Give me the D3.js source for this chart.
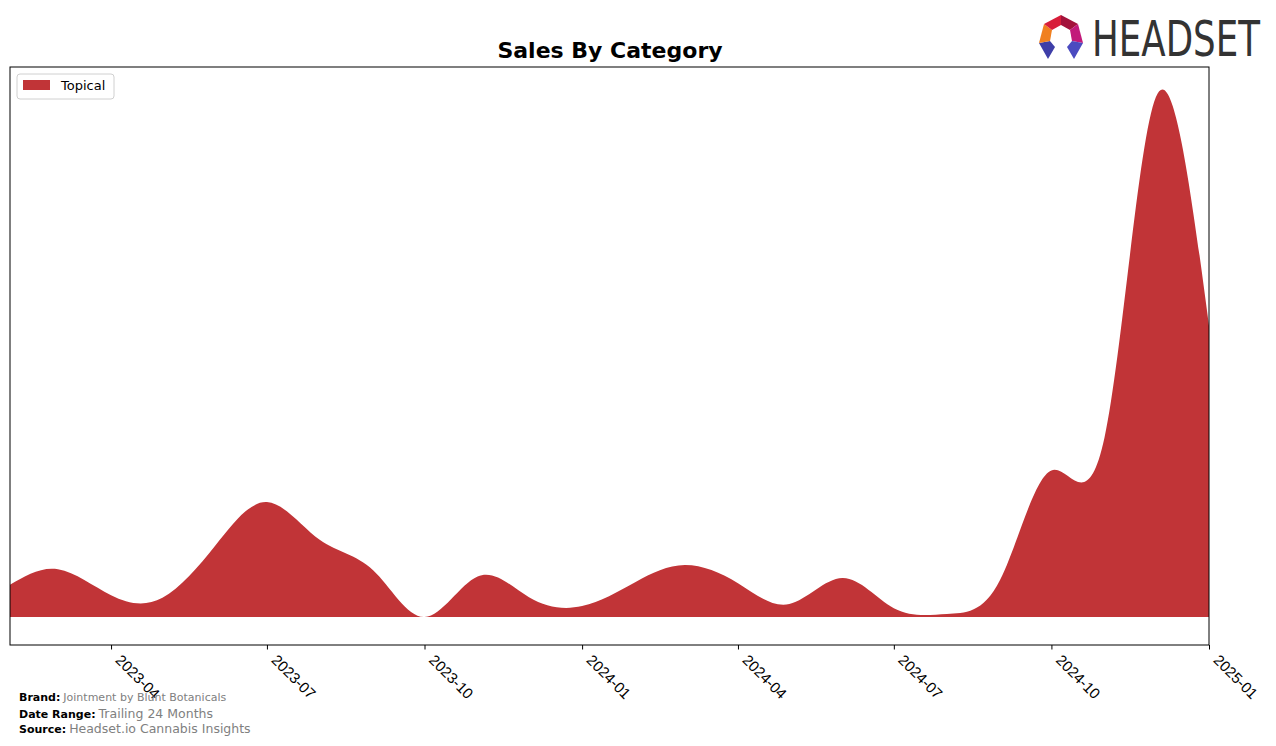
<!DOCTYPE html>
<html><head><meta charset="utf-8">
<script src="https://cdn.jsdelivr.net/npm/d3@7"></script>
<style>body{margin:0;background:#fff;} svg{display:block;font-family:"DejaVu Sans",sans-serif;}</style>
</head><body>
<svg id="chart" width="1276" height="746"></svg>
<script>
const months = ["2023-02","2023-03","2023-04","2023-05","2023-06","2023-07","2023-08","2023-09","2023-10","2023-11","2023-12","2024-01","2024-02","2024-03","2024-04","2024-05","2024-06","2024-07","2024-08","2024-09","2024-10","2024-11","2024-12","2025-01"];
const topical = [6.2,9.2,4.2,3.7,13.8,22.1,14.8,9.0,0.0,7.8,3.8,2.1,6.7,10.0,6.5,2.5,7.5,1.7,0.6,7.1,28.2,34.5,100,56.0];
const tickLabels = ["2023-04","2023-07","2023-10","2024-01","2024-04","2024-07","2024-10","2025-01"];
const seriesName = "Topical";

const svg = d3.select("#chart");
const parse = d3.timeParse("%Y-%m");
const L = 10, R = 1209, T = 67, B = 645;
const x = d3.scaleTime().domain([parse("2023-02"), parse("2025-01")]).range([L, R]);
const y = d3.scaleLinear().domain([-5.38, 105.77]).range([B, T]);
const data = months.map((m, i) => ({d: parse(m), v: topical[i]}));

svg.append("defs").append("clipPath").attr("id","clip").append("rect")
  .attr("x", L).attr("y", T).attr("width", R - L).attr("height", B - T);

const area = d3.area().x(d => x(d.d)).y0(y(0)).y1(d => y(d.v)).curve(d3.curveNatural);
svg.append("path").datum(data).attr("clip-path","url(#clip)")
  .attr("d", area).attr("fill", "#c13437");

// frame
svg.append("rect").attr("x", L).attr("y", T).attr("width", R - L).attr("height", B - T)
  .attr("fill","none").attr("stroke","#000").attr("stroke-width",1);

// x axis
const xAxis = d3.axisBottom(x).tickValues(tickLabels.map(parse)).tickFormat(d3.timeFormat("%Y-%m")).tickSize(4.5).tickSizeOuter(0);
const gx = svg.append("g").attr("transform", `translate(0,${B})`).call(xAxis);
gx.select(".domain").remove();
gx.selectAll(".tick line").attr("stroke","#000");
gx.selectAll(".tick text").attr("font-size", 15).attr("fill","#000")
  .attr("text-anchor","start").attr("dy", null).attr("y", 0)
  .attr("transform", "translate(3,16) rotate(45)");

// title
svg.append("text").attr("x", 610).attr("y", 58).attr("text-anchor","middle")
  .attr("font-weight","bold").attr("font-size", 22).text("Sales By Category");

// legend
const lg = svg.append("g");
lg.append("rect").attr("x",17).attr("y",74).attr("width",97).attr("height",25).attr("rx",3)
  .attr("fill","#fff").attr("stroke","#d0d0d0");
lg.append("rect").attr("x",23).attr("y",80).attr("width",27).attr("height",10).attr("fill","#c13437");
lg.append("text").attr("x",61).attr("y",90).attr("font-size",13).text(seriesName);

// footer
const foot = [["Brand:", "Jointment by Blunt Botanicals", 11, 701], ["Date Range:", "Trailing 24 Months", 12.5, 718], ["Source:", "Headset.io Cannabis Insights", 12.5, 733]];
foot.forEach(([k, v, fs, yy]) => {
  const t = svg.append("text").attr("x", 19).attr("y", yy);
  t.append("tspan").attr("font-weight","bold").attr("font-size", 11).attr("fill","#000").text(k);
  t.append("tspan").attr("dx", 3).attr("font-size", fs).attr("fill","#808080").text(v);
});

// logo
const logo = svg.append("g").attr("transform","translate(1061,37)");
const ringOuter = [[0,-22],[17,-13],[22,6],[13,22],[-13,22],[-22,6],[-17,-13]];
const ringInner = [[0,-12],[9,-7],[11,4],[6,10],[-6,10],[-11,4],[-9,-7]];
const segCols = ["#a3123b","#c21a7a","#4b4bc0","#2e2a7a","#3e3ea8","#f08020","#d81e3a"];
for (let i = 0; i < 7; i++) {
  if (i === 3) continue;
  const j = (i + 1) % 7;
  logo.append("polygon").attr("points", [ringOuter[i], ringOuter[j], ringInner[j], ringInner[i]].map(p => p.join(",")).join(" "))
    .attr("fill", segCols[i]);
}
const logoText = svg.append("text").attr("font-family","'DejaVu Sans',sans-serif")
  .attr("font-size", 49).attr("fill","#333").attr("x", 0).attr("y", 0).text("HEADSET");
const natW = logoText.node().getComputedTextLength();
logoText.attr("transform", `translate(1092,56) scale(${168 / natW},1)`);
</script>
</body></html>
